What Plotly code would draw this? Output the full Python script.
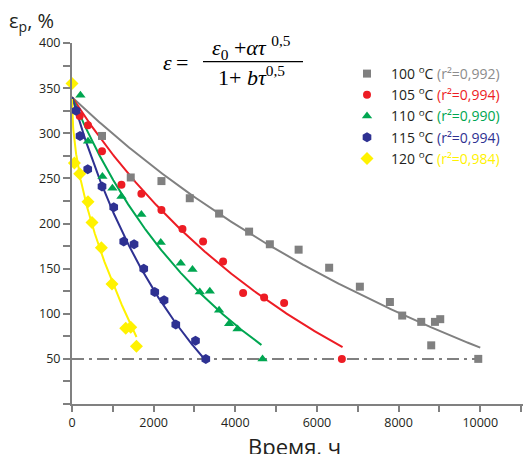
import numpy as np
import plotly.graph_objects as go

# Ageing time, h, and elongation at break, %, at each ageing temperature
t_100 = [735, 1439, 2191, 2885, 3603, 4338, 4846, 5551, 6299, 7051, 7787, 8088, 8554, 8799, 8890, 9020, 9951]
e_100 = [297, 251, 247, 228, 211, 191, 177, 171, 151, 130, 113, 98, 91, 65, 91, 94, 50]

t_105 = [189, 392, 735, 1211, 1700, 2191, 2706, 3211, 3701, 4191, 4706, 5196, 6610]
e_105 = [319, 309, 280, 243, 233, 215, 194, 180, 158, 123, 118, 112, 50]

t_110 = [206, 392, 745, 990, 1211, 1700, 2174, 2664, 2951, 3130, 3375, 3603, 3848, 4054, 4667]
e_110 = [342, 291, 252, 239, 230, 210, 179, 156, 149, 124, 125, 104, 89, 83, 50]

t_115 = [100, 196, 385, 735, 1022, 1267, 1520, 1757, 2027, 2255, 2542, 3025, 3277]
e_115 = [325, 297, 260, 241, 218, 180, 177, 150, 124, 115, 88, 70, 50]

t_120 = [0, 59, 189, 392, 490, 720, 980, 1316, 1439, 1578]
e_120 = [355, 267, 255, 224, 201, 173, 133, 84, 85, 64]

temps = ["100", "105", "110", "115", "120"]
r2 = ["0,992", "0,994", "0,990", "0,994", "0,984"]

# Trend curves: eps = (eps0 + a*t**p) / (1 + b*t**p)
fit_eps0 = [340, 340, 340, 340, 338]
fit_a = [-0.02434, -0.0354, -0.04778, -0.0783, -6.846]
fit_b = [5.48e-5, 1.02e-4, 1.742e-4, 2.258e-4, -0.00284]
fit_p = [1.0, 1.0, 1.0, 1.0, 0.5]
fit_tmax = [10000, 6627, 4640, 3294, 1580]

# Criterion level, %
limit_level = 50

x_ticks = list(range(0, 11001, 1000))
x_labels = [str(v) if v % 2000 == 0 else "" for v in x_ticks]
y_ticks = list(range(0, 401, 25))
y_labels = [str(v) if (v % 50 == 0 and v > 0) else "" for v in y_ticks]

times = [t_100, t_105, t_110, t_115, t_120]
values = [e_100, e_105, e_110, e_115, e_120]
colors = ["#808080", "#ed1c24", "#00a651", "#2e3192", "#fff200"]
text_colors = ["#8c8c8c", "#ed1c24", "#00a651", "#2e3192", "#fff200"]
symbols = ["square", "circle", "triangle-up", "hexagon", "diamond"]
msizes = [8, 8, 9, 10, 10]

W, H = 523, 454
ML, MR, MT, MB = 72, 0, 43, 50


def px(x):
    return (x - ML) / (W - ML - MR)


def py(y):
    return (H - MB - y) / (H - MT - MB)


fig = go.Figure()

# fitted curves
for i in range(5):
    tt = np.linspace(0, fit_tmax[i], 400)
    s = tt ** fit_p[i]
    ee = (fit_eps0[i] + fit_a[i] * s) / (1 + fit_b[i] * s)
    fig.add_trace(go.Scatter(x=tt, y=ee, mode="lines",
                             line=dict(color=colors[i], width=2),
                             showlegend=False, hoverinfo="skip"))

# 50 % criterion line
fig.add_trace(go.Scatter(x=[0, max(t_100)], y=[limit_level, limit_level], mode="lines",
                         line=dict(color="#808080", width=2, dash="12px,5px,3px,5px"),
                         showlegend=False, hoverinfo="skip"))

# measured points
for i in range(5):
    name = (f"{temps[i]} <sup>o</sup>C "
            f"<span style='color:{text_colors[i]}'>(r²={r2[i]})</span>")
    fig.add_trace(go.Scatter(x=times[i], y=values[i], mode="markers", name=name,
                             marker=dict(symbol=symbols[i], size=msizes[i],
                                         color=colors[i], line=dict(width=0)),
                             cliponaxis=False))

axis_common = dict(showgrid=False, zeroline=False, showline=True,
                   linecolor="#808080", linewidth=2, ticks="outside",
                   tickcolor="#808080", tickwidth=2,
                   tickfont=dict(family="Open Sans", size=12.5, color="#231f20"))

fig.update_layout(
    width=W, height=H,
    margin=dict(l=ML, r=MR, t=MT, b=MB, pad=0),
    paper_bgcolor="white", plot_bgcolor="white",
    xaxis=dict(range=[0, 11047], tickmode="array", tickvals=x_ticks,
               ticktext=x_labels, ticklen=6, **axis_common),
    yaxis=dict(range=[0, 400], tickmode="array", tickvals=y_ticks,
               ticktext=y_labels, ticklen=7, **axis_common),
    legend=dict(x=px(343), y=py(58), xanchor="left", yanchor="top",
                font=dict(family="Open Sans", size=14, color="#231f20"),
                bgcolor="rgba(0,0,0,0)", itemwidth=38, tracegroupgap=0),
    showlegend=True,
)

serif = dict(family="Liberation Serif", size=22, color="black")

annotations = [
    dict(x=px(7), y=py(22), xanchor="left", yanchor="middle",
         text="ε<sub>р</sub>, %", font=dict(family="Open Sans", size=20, color="#231f20")),
    dict(x=px(294), y=py(429), xanchor="center", yanchor="top",
         text="Время, ч", font=dict(family="Open Sans", size=22, color="#231f20")),
    dict(x=px(161), y=py(62), xanchor="left", yanchor="middle",
         text="<i>ε</i>\u2009=", font=serif),
    dict(x=px(251), y=py(47), xanchor="center", yanchor="middle",
         text="<i>ε</i><sub>0</sub> +<i>ατ</i> <sup>0,5</sup>", font=serif),
    dict(x=px(251), y=py(76), xanchor="center", yanchor="middle",
         text="1+ <i>bτ</i><sup>0,5</sup>", font=serif),
]
for a in annotations:
    a.update(xref="paper", yref="paper", showarrow=False)
fig.update_layout(annotations=annotations)

fig.add_shape(type="line", xref="paper", yref="paper",
              x0=px(203), x1=px(303), y0=py(61.7), y1=py(61.7),
              line=dict(color="black", width=1.2))

fig.write_html("out.html")
